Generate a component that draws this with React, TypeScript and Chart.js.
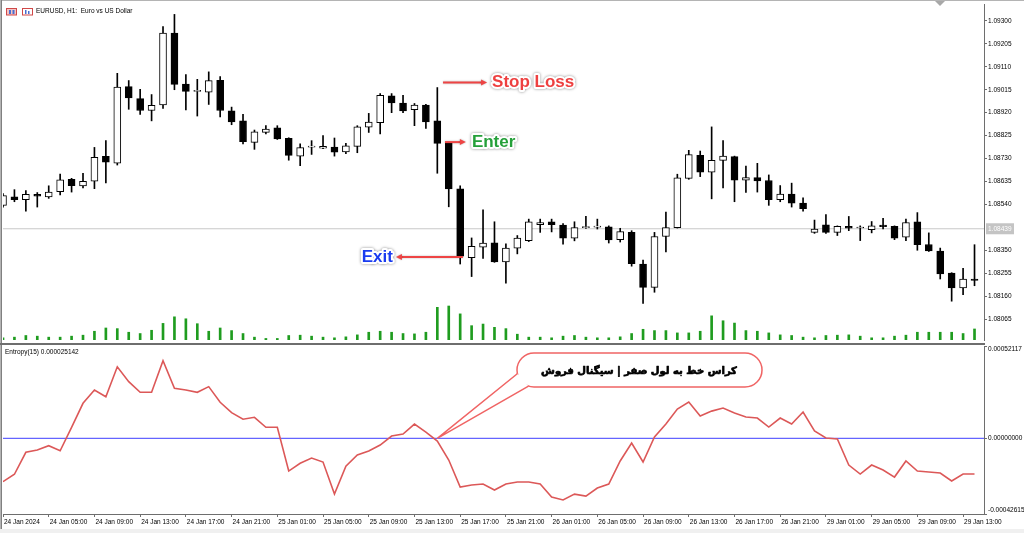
import React, { useEffect, useRef } from "react";
import { Chart, registerables } from "chart.js";
Chart.register(...registerables);

// ---------------- data ----------------
const OPEN = [1.08536,1.08571,1.08560,1.08582,1.08571,1.08593,1.08644,1.08617,1.08636,1.08739,1.08711,1.09028,1.08978,1.08929,1.08952,1.09250,1.09038,1.09008,1.09005,1.09054,1.08928,1.08886,1.08797,1.08838,1.08857,1.08814,1.08740,1.08777,1.08773,1.08777,1.08757,1.08780,1.08860,1.08879,1.08990,1.08960,1.08932,1.08951,1.08886,1.08793,1.08604,1.08319,1.08363,1.08381,1.08302,1.08359,1.08390,1.08456,1.08468,1.08454,1.08400,1.08444,1.08446,1.08447,1.08394,1.08424,1.08293,1.08196,1.08407,1.08444,1.08648,1.08743,1.08673,1.08722,1.08738,1.08640,1.08651,1.08639,1.08560,1.08583,1.08545,1.08424,1.08455,1.08424,1.08449,1.08442,1.08435,1.08454,1.08449,1.08404,1.08468,1.08374,1.08347,1.08255,1.08194,1.08231];
const HIGH = [1.08585,1.08601,1.08597,1.08589,1.08617,1.08666,1.08648,1.08669,1.08776,1.08804,1.09083,1.09053,1.09017,1.08995,1.09277,1.09327,1.09078,1.09058,1.09089,1.09069,1.08943,1.08913,1.08848,1.08866,1.08866,1.08816,1.08791,1.08804,1.08825,1.08815,1.08793,1.08866,1.08917,1.08999,1.08999,1.08992,1.08958,1.08954,1.09024,1.08795,1.08617,1.08401,1.08517,1.08468,1.08377,1.08411,1.08479,1.08479,1.08479,1.08461,1.08468,1.08491,1.08479,1.08451,1.08441,1.08431,1.08309,1.08424,1.08508,1.08665,1.08764,1.08761,1.08861,1.08804,1.08740,1.08699,1.08710,1.08662,1.08618,1.08628,1.08567,1.08475,1.08498,1.08451,1.08490,1.08451,1.08469,1.08482,1.08451,1.08479,1.08506,1.08422,1.08359,1.08257,1.08275,1.08373];
const LOW = [1.08528,1.08551,1.08512,1.08529,1.08565,1.08579,1.08591,1.08608,1.08605,1.08629,1.08703,1.08934,1.08913,1.08886,1.08938,1.09015,1.08931,1.08906,1.08954,1.08902,1.08870,1.08791,1.08768,1.08832,1.08809,1.08723,1.08700,1.08747,1.08771,1.08740,1.08750,1.08754,1.08838,1.08832,1.08920,1.08920,1.08866,1.08855,1.08669,1.08530,1.08293,1.08241,1.08316,1.08300,1.08214,1.08335,1.08386,1.08424,1.08426,1.08375,1.08389,1.08440,1.08438,1.08380,1.08384,1.08284,1.08130,1.08176,1.08343,1.08442,1.08644,1.08655,1.08563,1.08608,1.08551,1.08590,1.08591,1.08536,1.08551,1.08529,1.08512,1.08420,1.08420,1.08411,1.08431,1.08390,1.08422,1.08438,1.08394,1.08390,1.08350,1.08345,1.08231,1.08139,1.08166,1.08203];
const CLOSE = [1.08576,1.08560,1.08582,1.08574,1.08591,1.08642,1.08618,1.08636,1.08735,1.08715,1.09026,1.08981,1.08929,1.08950,1.09250,1.09037,1.09008,1.09008,1.09053,1.08929,1.08882,1.08800,1.08841,1.08852,1.08811,1.08743,1.08775,1.08777,1.08780,1.08756,1.08783,1.08861,1.08881,1.08992,1.08960,1.08927,1.08951,1.08882,1.08793,1.08604,1.08325,1.08366,1.08380,1.08302,1.08359,1.08400,1.08468,1.08465,1.08456,1.08400,1.08444,1.08446,1.08446,1.08393,1.08427,1.08294,1.08196,1.08407,1.08444,1.08650,1.08746,1.08673,1.08723,1.08740,1.08640,1.08651,1.08637,1.08560,1.08583,1.08545,1.08522,1.08438,1.08424,1.08449,1.08441,1.08442,1.08451,1.08448,1.08400,1.08465,1.08373,1.08347,1.08252,1.08194,1.08231,1.08225];
const VOLUME = [600,750,1170,1000,750,750,1000,1250,2250,3080,2920,2000,1670,2500,4250,5920,5420,4170,2250,3080,2420,1670,750,420,420,1170,1250,1000,750,580,830,1330,2000,2250,2000,1670,1580,2000,8330,8670,6670,3670,4080,3250,2920,1500,750,750,580,1000,1170,750,580,580,830,1670,2750,2420,2420,1830,1830,2250,6170,4920,4330,2420,2250,1830,1330,1170,750,580,1170,1250,1330,1000,580,580,1000,1250,2000,2000,2000,2000,1670,2830];
const ENTROPY = [-0.000244,-0.000202,-0.0000784,-0.0000654,-0.0000412,-0.0000694,0.0000626,0.000198,0.000273,0.000235,0.000404,0.000320,0.000260,0.000260,0.000438,0.000283,0.000273,0.000260,0.000292,0.000204,0.000145,0.000108,0.000119,0.0000626,0.0000626,-0.000184,-0.000140,-0.000111,-0.000133,-0.000314,-0.000156,-0.0000936,-0.0000711,-0.0000372,0.0000135,0.0000248,0.0000812,0.0000361,-0.0000147,-0.000122,-0.000274,-0.000263,-0.000257,-0.000291,-0.000257,-0.000246,-0.000246,-0.000257,-0.000330,-0.000347,-0.000314,-0.000325,-0.000280,-0.000257,-0.000127,-0.0000259,-0.000133,0.0000079,0.0000812,0.000166,0.000205,0.000126,0.000154,0.000171,0.000143,0.000121,0.000115,0.0000643,0.000115,0.0000812,0.000149,0.0000417,0.0000023,-0.0000034,-0.000150,-0.000201,-0.000150,-0.000178,-0.000218,-0.000127,-0.000184,-0.000189,-0.000195,-0.000240,-0.000201,-0.000201];
const TIME_TICK_INDEX = [0,4,8,12,16,20,24,28,32,36,40,44,48,52,56,60,64,68,72,76,80,84];
const TIME_LABELS = ["24 Jan 2024","24 Jan 05:00","24 Jan 09:00","24 Jan 13:00","24 Jan 17:00","24 Jan 21:00","25 Jan 01:00","25 Jan 05:00","25 Jan 09:00","25 Jan 13:00","25 Jan 17:00","25 Jan 21:00","26 Jan 01:00","26 Jan 05:00","26 Jan 09:00","26 Jan 13:00","26 Jan 17:00","26 Jan 21:00","29 Jan 01:00","29 Jan 05:00","29 Jan 09:00","29 Jan 13:00"];
const PRICE_TICKS = [1.093,1.09205,1.0911,1.09015,1.0892,1.08825,1.0873,1.08635,1.0854,1.0835,1.08255,1.0816,1.08065];
const IND_TICKS = [0.00052117, 0, -0.00042615];
const IND_TICK_LABELS = ["0.00052117", "0.00000000", "-0.00042615"];
const BID_PRICE = 1.08439;
const STOP_LOSS = 1.09045;
const ENTER = 1.08798;
const EXIT = 1.08322;
const SIGNAL_BAR = 38;
const CALLOUT_TEXT = "کراس خط به لول صفر | سیگنال فروش";

// ---------------- axis bounds ----------------
const XMAX = 85.83;
const PRICE_MIN = 1.079778;
const PRICE_MAX = 1.093664;
const VOL_MAX = 85250;
const IND_MAX = 0.00052117;
const IND_MIN = -0.00042615;
const FONT = '"Liberation Sans", Arial, sans-serif';
const AXIS_COLOR = "#6e6e6e";

function drawLabel(ctx: CanvasRenderingContext2D, text: string, x: number, y: number, color: string, align: CanvasTextAlign) {
  ctx.save();
  ctx.font = `bold 17px ${FONT}`;
  ctx.textBaseline = "middle";
  ctx.textAlign = align;
  ctx.lineJoin = "round";
  ctx.shadowColor = "rgba(0,0,0,0.45)";
  ctx.shadowBlur = 3;
  ctx.strokeStyle = "#ffffff";
  ctx.lineWidth = 4;
  ctx.strokeText(text, x, y);
  ctx.shadowColor = "transparent";
  ctx.fillStyle = color;
  ctx.fillText(text, x, y);
  ctx.restore();
}

function drawArrow(ctx: CanvasRenderingContext2D, x1: number, x2: number, y: number) {
  ctx.save();
  ctx.strokeStyle = "#ee4444";
  ctx.fillStyle = "#ee4444";
  ctx.lineWidth = 2;
  ctx.shadowColor = "rgba(0,0,0,0.3)";
  ctx.shadowBlur = 2;
  const dir = x2 > x1 ? 1 : -1;
  ctx.beginPath();
  ctx.moveTo(x1, y);
  ctx.lineTo(x2 - dir * 5, y);
  ctx.stroke();
  ctx.beginPath();
  ctx.moveTo(x2, y);
  ctx.lineTo(x2 - dir * 6, y - 3);
  ctx.lineTo(x2 - dir * 6, y + 3);
  ctx.closePath();
  ctx.fill();
  ctx.restore();
}

const decorA = {
  id: "decorA",
  beforeDraw(chart: any) {
    const ctx = chart.ctx;
    ctx.save();
    ctx.fillStyle = "#ffffff";
    ctx.fillRect(0, 0, chart.width, chart.height);
    ctx.restore();
  },
  afterDraw(chart: any) {
    const ctx: CanvasRenderingContext2D = chart.ctx;
    const xs = chart.scales.x;
    const ys = chart.scales.y;
    ctx.save();
    // frame
    ctx.fillStyle = "#b4b4b4";
    ctx.fillRect(0, 0, chart.width, 1);
    ctx.fillRect(0, 0, 1, chart.height);
    ctx.fillStyle = "#808080";
    ctx.fillRect(1, 0, 1, chart.height);
    ctx.fillStyle = AXIS_COLOR;
    ctx.fillRect(0, 343, 985, 2);
    // chart shift marker
    ctx.fillStyle = "#a8a8a8";
    ctx.beginPath();
    ctx.moveTo(935, 1); ctx.lineTo(945, 1); ctx.lineTo(940, 6); ctx.closePath(); ctx.fill();
    // header icons
    ctx.fillStyle = "#f3c4c4"; ctx.fillRect(6.5, 8, 10, 7);
    ctx.strokeStyle = "#d04848"; ctx.lineWidth = 1; ctx.strokeRect(6.5, 8.5, 10, 6.5);
    ctx.fillStyle = "#4a6fd0"; ctx.fillRect(9, 10, 2, 4); ctx.fillRect(12.5, 10, 2, 4);
    ctx.fillStyle = "#ffffff"; ctx.fillRect(22, 8, 10, 7);
    ctx.strokeStyle = "#d04848"; ctx.strokeRect(22.5, 8.5, 10, 6.5);
    ctx.fillStyle = "#4a6fd0"; ctx.fillRect(25, 10, 1.5, 4); ctx.fillRect(28, 11, 1.5, 3);
    ctx.fillStyle = "#000"; ctx.font = `6.5px ${FONT}`; ctx.textBaseline = "middle"; ctx.textAlign = "left";
    ctx.fillText("EURUSD, H1:  Euro vs US Dollar", 36, 11.5);
    // bid label on price axis
    const by = ys.getPixelForValue(BID_PRICE);
    ctx.fillStyle = "#c4c4c4";
    ctx.fillRect(986, by - 5.5, 28, 11);
    ctx.fillStyle = "#ffffff";
    ctx.fillText(BID_PRICE.toFixed(5), 988, by);
    ctx.restore();
    // trade annotations
    const sy = ys.getPixelForValue(STOP_LOSS);
    drawArrow(ctx, xs.getPixelForValue(38.5), xs.getPixelForValue(42.35), sy);
    drawLabel(ctx, "Stop Loss", xs.getPixelForValue(42.35) + 5, sy, "#ee4040", "left");
    const ey = ys.getPixelForValue(ENTER);
    drawArrow(ctx, xs.getPixelForValue(38.67), xs.getPixelForValue(40.5), ey);
    drawLabel(ctx, "Enter", xs.getPixelForValue(40.5) + 6, ey, "#25a03a", "left");
    const xy = ys.getPixelForValue(EXIT);
    drawArrow(ctx, xs.getPixelForValue(40.24), xs.getPixelForValue(34.38), xy);
    drawLabel(ctx, "Exit", xs.getPixelForValue(34.38) - 3, xy, "#1a3cf0", "right");
  },
};

const decorB = {
  id: "decorB",
  beforeDraw(chart: any) {
    const ctx = chart.ctx;
    ctx.save();
    ctx.fillStyle = "#ffffff";
    ctx.fillRect(0, 0, chart.width, chart.height);
    ctx.restore();
  },
  afterDraw(chart: any) {
    const ctx: CanvasRenderingContext2D = chart.ctx;
    const xs = chart.scales.x;
    const ys = chart.scales.y;
    const area = chart.chartArea;
    ctx.save();
    ctx.fillStyle = "#b4b4b4";
    ctx.fillRect(0, 0, 1, chart.height);
    ctx.fillStyle = "#808080";
    ctx.fillRect(1, 0, 1, chart.height);
    ctx.fillStyle = "#f0f0f0";
    ctx.fillRect(0, chart.height - 4, chart.width, 4);
    // indicator labels
    ctx.fillStyle = "#000";
    ctx.font = `6.5px ${FONT}`;
    ctx.textBaseline = "middle";
    ctx.textAlign = "left";
    ctx.fillText("Entropy(15) 0.000025142", 5, 7.5);
    const ly = [area.top + 3.5, ys.getPixelForValue(IND_TICKS[1]), area.bottom - 4];
    IND_TICK_LABELS.forEach((t, i) => ctx.fillText(t, 988, ly[i]));
    // callout
    const tipX = xs.getPixelForValue(SIGNAL_BAR);
    const tipY = ys.getPixelForValue(0);
    const bx = 517, by = 8, bw = 245, bh = 34, r = 17;
    ctx.strokeStyle = "#f06464";
    ctx.lineWidth = 1.5;
    ctx.fillStyle = "#ffffff";
    ctx.beginPath();
    (ctx as any).roundRect(bx, by, bw, bh, r);
    ctx.fill();
    ctx.stroke();
    const a1 = [517.6, 28.5];
    const a2 = [528.5, 41.2];
    ctx.beginPath();
    ctx.moveTo(a1[0], a1[1]);
    ctx.lineTo(tipX, tipY);
    ctx.lineTo(a2[0], a2[1]);
    ctx.closePath();
    ctx.fill();
    ctx.beginPath();
    ctx.moveTo(a1[0], a1[1]);
    ctx.lineTo(tipX, tipY);
    ctx.lineTo(a2[0], a2[1]);
    ctx.stroke();
    // callout text (bold, emboldened with a thin stroke)
    let fs = 14;
    const fam = '"DejaVu Sans", "Noto Sans", sans-serif';
    ctx.font = `bold ${fs}px ${fam}`;
    const w = ctx.measureText(CALLOUT_TEXT).width;
    if (w > 0) fs = Math.max(10, Math.min(15, (fs * 190) / w));
    ctx.font = `bold ${fs}px ${fam}`;
    (ctx as any).direction = "rtl";
    ctx.textAlign = "center";
    ctx.textBaseline = "middle";
    ctx.fillStyle = "#000";
    ctx.strokeStyle = "#000";
    ctx.lineWidth = 0.7;
    ctx.lineJoin = "round";
    ctx.strokeText(CALLOUT_TEXT, 639, 26);
    ctx.fillText(CALLOUT_TEXT, 639, 26);
    ctx.restore();
  },
};

export default function App() {
  const aRef = useRef<HTMLCanvasElement>(null);
  const bRef = useRef<HTMLCanvasElement>(null);

  useEffect(() => {
    Chart.defaults.font.family = FONT;
    const idx = OPEN.map((_, i) => i);
    const chartA = new Chart(aRef.current as HTMLCanvasElement, {
      type: "bar",
      data: {
        datasets: [
          {
            type: "line",
            data: [{ x: -1, y: BID_PRICE }, { x: 87, y: BID_PRICE }],
            borderColor: "#c8c8c8",
            borderWidth: 1,
            pointRadius: 0,
            yAxisID: "y",
            order: 5,
          } as any,
          {
            type: "bar",
            data: idx.map((i) => ({ x: i, y: VOLUME[i] })),
            yAxisID: "yv",
            backgroundColor: "#1f9c1f",
            barThickness: 2,
            grouped: false,
            order: 4,
          } as any,
          {
            type: "bar",
            data: idx.map((i) => ({ x: i, y: [LOW[i], HIGH[i]] })),
            yAxisID: "y",
            backgroundColor: "#000000",
            barThickness: 1,
            grouped: false,
            order: 2,
          } as any,
          {
            type: "bar",
            data: idx.map((i) => ({ x: i, y: [OPEN[i], CLOSE[i]] })),
            yAxisID: "y",
            backgroundColor: idx.map((i) => (CLOSE[i] >= OPEN[i] ? "#ffffff" : "#000000")),
            borderColor: "#000000",
            borderWidth: 1,
            borderSkipped: false,
            barThickness: 7,
            minBarLength: 1,
            grouped: false,
            order: 1,
          } as any,
        ],
      },
      options: {
        animation: false,
        responsive: false,
        devicePixelRatio: 1,
        events: [],
        layout: { padding: { left: 3, top: 2, bottom: 2, right: 0 } },
        plugins: { legend: { display: false }, tooltip: { enabled: false } },
        scales: {
          x: { type: "linear", min: 0, max: XMAX, offset: false, display: false, grid: { offset: false } },
          y: {
            type: "linear",
            position: "right",
            min: PRICE_MIN,
            max: PRICE_MAX,
            afterBuildTicks: (s: any) => { s.ticks = PRICE_TICKS.map((v) => ({ value: v })); },
            afterFit: (s: any) => { s.width = 40; },
            grid: { drawOnChartArea: false, drawTicks: true, tickLength: 3, color: AXIS_COLOR },
            border: { display: true, color: AXIS_COLOR, width: 1 },
            ticks: { color: "#000", padding: 1, font: { size: 6.5, family: FONT }, callback: (v: any) => Number(v).toFixed(5) },
          },
          yv: { type: "linear", display: false, min: 0, max: VOL_MAX },
        },
      } as any,
      plugins: [decorA],
    });

    const chartB = new Chart(bRef.current as HTMLCanvasElement, {
      type: "line",
      data: {
        datasets: [
          {
            data: [{ x: -1, y: 0 }, { x: 87, y: 0 }],
            borderColor: "#6464ff",
            borderWidth: 1.2,
            pointRadius: 0,
            order: 2,
          },
          {
            data: idx.map((i) => ({ x: i, y: ENTROPY[i] })),
            borderColor: "#dc5858",
            borderWidth: 1.6,
            pointRadius: 0,
            tension: 0,
            order: 1,
          },
        ],
      },
      options: {
        animation: false,
        responsive: false,
        devicePixelRatio: 1,
        events: [],
        layout: { padding: { left: 3, top: 1, bottom: 0, right: 0 } },
        plugins: { legend: { display: false }, tooltip: { enabled: false } },
        scales: {
          x: {
            type: "linear",
            position: "bottom",
            min: 0,
            max: XMAX,
            offset: false,
            afterBuildTicks: (s: any) => { s.ticks = TIME_TICK_INDEX.map((v) => ({ value: v })); },
            afterFit: (s: any) => { s.height = 19; },
            grid: { drawOnChartArea: false, drawTicks: true, tickLength: 3, color: AXIS_COLOR, offset: false },
            border: { display: true, color: AXIS_COLOR, width: 1 },
            ticks: {
              autoSkip: false,
              maxRotation: 0,
              minRotation: 0,
              align: "start",
              labelOffset: 1,
              padding: 1,
              color: "#000",
              font: { size: 6.5, family: FONT },
              callback: (_v: any, i: number) => TIME_LABELS[i],
            },
          },
          y: {
            type: "linear",
            position: "right",
            min: IND_MIN,
            max: IND_MAX,
            afterBuildTicks: (s: any) => { s.ticks = IND_TICKS.map((v) => ({ value: v })); },
            afterFit: (s: any) => { s.width = 40; },
            grid: { drawOnChartArea: false, drawTicks: true, tickLength: 3, color: AXIS_COLOR },
            border: { display: true, color: AXIS_COLOR, width: 1 },
            ticks: { display: false },
          },
        },
      } as any,
      plugins: [decorB],
    });

    return () => {
      chartA.destroy();
      chartB.destroy();
    };
  }, []);

  return (
    <div style={{ position: "fixed", left: 0, top: 0, width: 1024, height: 533, background: "#fff", overflow: "hidden" }}>
      <canvas ref={aRef} width={1024} height={345} style={{ position: "absolute", left: 0, top: 0, width: 1024, height: 345 }} />
      <canvas ref={bRef} width={1024} height={188} style={{ position: "absolute", left: 0, top: 345, width: 1024, height: 188 }} />
    </div>
  );
}
